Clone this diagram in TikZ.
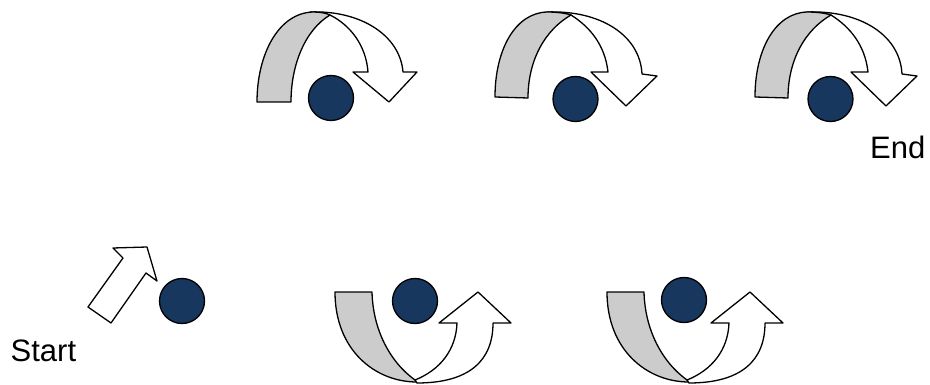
\documentclass[tikz,border=0pt]{standalone}
\usepackage{fontspec}
\setmainfont{Liberation Sans}
\definecolor{ballblue}{HTML}{17375E}
\definecolor{backgray}{HTML}{CCCCCC}
\begin{document}
\begin{tikzpicture}[x=1pt,y=-1pt,line join=round,
  ball/.style={circle,draw=black,line width=1.3pt,fill=ballblue,minimum size=45pt,inner sep=0pt},
  front/.style={draw=black,line width=1.3pt,fill=white},
  back/.style={draw=black,line width=1.3pt,fill=backgray},
  lbl/.style={font=\fontsize{31}{36}\selectfont,inner sep=0pt,anchor=base west}]
\useasboundingbox (0,0) rectangle (930,385);

% ---- top arrow 1
\path[front] (310,12) .. controls (360,10) and (400,35) .. (403,72)
  -- (417,72) -- (389,102) -- (353,72) -- (368,72)
  .. controls (366,45) and (350,25) .. (330,15) -- cycle;
\path[back] (257,102) -- (291,102)
  .. controls (291,65) and (305,30) .. (330,15)
  .. controls (326,13) and (320,12) .. (313,12)
  .. controls (278,13) and (257,55) .. (257,102) -- cycle;
\node[ball] (c1) at (331,98) {};

% ---- top arrows 2 and 3
\foreach \dx in {0,260}{
\begin{scope}[xshift=\dx]
\path[front] (547,12) .. controls (600,10) and (640,35) .. (642,74)
  -- (657,76) -- (626,106) -- (591,72) -- (608,72)
  .. controls (605,45) and (590,27) .. (571,15) -- cycle;
\path[back] (495,97) -- (528,98)
  .. controls (528,60) and (545,30) .. (571,15)
  .. controls (565,13) and (556,12) .. (547,12)
  .. controls (515,13) and (495,50) .. (495,97) -- cycle;
\end{scope}}
\node[ball] (c2) at (575.5,99) {};
\node[ball] (c3) at (830.5,99) {};

% ---- bottom arrows
\foreach \dx in {0,272}{
\begin{scope}[xshift=\dx]
\path[back] (335,292) -- (372,292)
  .. controls (373,330) and (390,362) .. (415,380)
  -- (417,382)
  .. controls (375,382) and (335,350) .. (335,292) -- cycle;
\path[front] (417,383) .. controls (470,383) and (493,360) .. (493,323)
  -- (511,323) -- (478,292) -- (439,323) -- (457,323)
  .. controls (456,350) and (440,370) .. (415,380) -- cycle;
\end{scope}}
\node[ball] (c4) at (415,301) {};
\node[ball] (c5) at (684,300) {};

% ---- start arrow
\path[front] (88,307) -- (123,258) -- (113,248) -- (147,247) -- (157,281) -- (146,273) -- (111,323) -- cycle;
\node[ball] (c0) at (182,301) {};

% ---- labels
\node[lbl] (start) at (10.5,361) {Start};
\node[lbl] (end) at (870,159) {End};
\end{tikzpicture}
\end{document}
